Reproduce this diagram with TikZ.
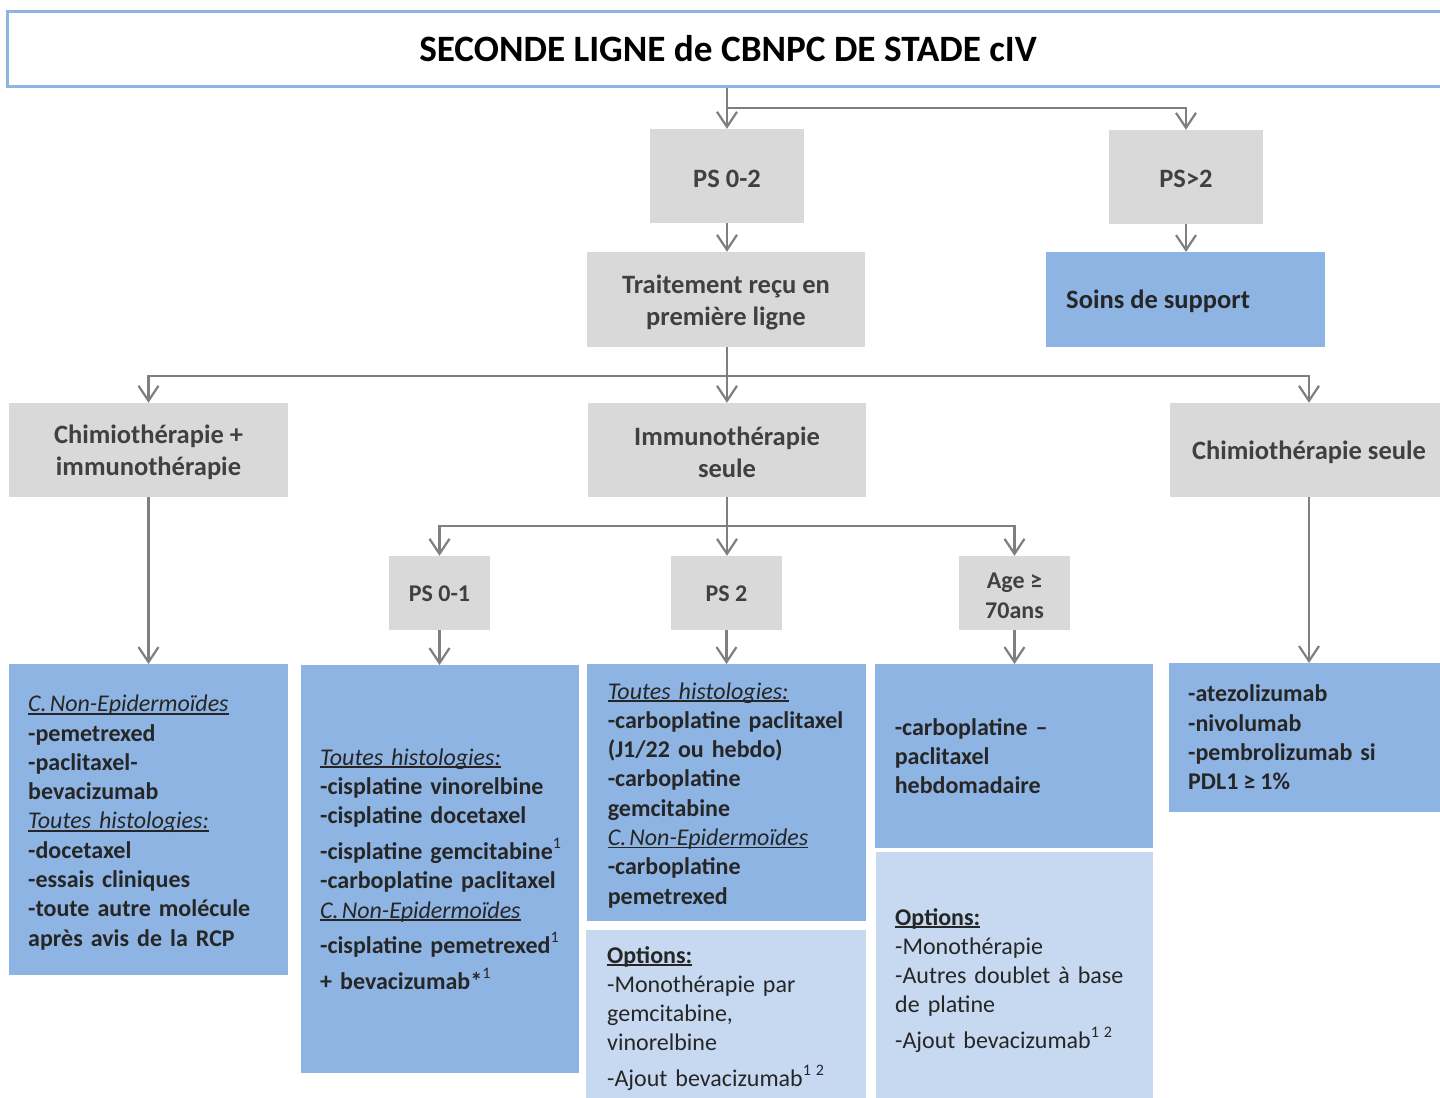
\documentclass[tikz,border=0pt]{standalone}
\usepackage{fontspec}
\setmainfont{Carlito}
\usetikzlibrary{arrows.meta}
\definecolor{bluebox}{HTML}{8EB4E3}
\definecolor{lightbox}{HTML}{C6D9F1}
\definecolor{graybox}{HTML}{D9D9D9}
\definecolor{linegray}{HTML}{7F7F7F}
\definecolor{graytext}{HTML}{404040}
\definecolor{darktext}{HTML}{262626}
\newsavebox\ulbox
\newcommand\myul[1]{\leavevmode\sbox\ulbox{#1}\rlap{\rule[-2.8bp]{\wd\ulbox}{1.4bp}}\usebox\ulbox}
\newcommand\sups[1]{\raisebox{11bp}{\fontsize{16bp}{16bp}\selectfont\mdseries #1}}
\begin{document}
\begin{tikzpicture}[x=1bp,y=-1bp,
  gbox/.style={fill=graybox,inner sep=0},
  gtext/.style={inner sep=0,align=center,text=graytext,font=\bfseries\fontsize{26.5bp}{32bp}\selectfont},
  sgtext/.style={gtext,font=\bfseries\fontsize{24bp}{29.5bp}\selectfont},
  panel/.style={fill=bluebox,inner sep=0,anchor=north west},
  lpanel/.style={fill=lightbox,inner sep=0,anchor=north west},
  body/.style={anchor=base west,inner sep=0,text width=255bp,align=left,text=darktext,font=\frenchspacing\fontsize{24bp}{29.3bp}\selectfont},
  arr/.style={draw=linegray,line width=2.2bp,-{Straight Barb[length=15bp,width=20bp,line width=2.2bp]}}
]
\useasboundingbox (0,0) rectangle (1440,1097);

% title
\node[draw=bluebox,line width=3bp,minimum width=1440bp,minimum height=75bp,inner sep=0,
      font=\bfseries\fontsize{37.2bp}{40bp}\selectfont] (title) at (728,49) {SECONDE LIGNE de CBNPC DE STADE cIV};

% gray decision boxes
\node[gbox,minimum width=154bp,minimum height=94bp] (ps02) at (727,176) {};
\node[gbox,minimum width=154bp,minimum height=94bp] (psg2) at (1186,177) {};
\node[gbox,minimum width=278bp,minimum height=95bp] (trait) at (726,299.5) {};
\node[gbox,minimum width=279bp,minimum height=94bp] (chim) at (148.5,450) {};
\node[gbox,minimum width=278bp,minimum height=94bp] (immuno) at (727,450) {};
\node[gbox,minimum width=278bp,minimum height=94bp] (chseule) at (1309,450) {};
\node[gbox,minimum width=101bp,minimum height=74bp] (ps01) at (439.5,593) {};
\node[gbox,minimum width=111bp,minimum height=74bp] (ps2) at (726.5,593) {};
\node[gbox,minimum width=111bp,minimum height=74bp] (age) at (1014.5,593) {};

\node[gtext] (ps02t) at ([yshift=-2.5bp]ps02.center) {PS 0-2};
\node[gtext] (psg2t) at ([yshift=-1.5bp]psg2.center) {PS>2};
\node[gtext] (traitt) at ([yshift=-2.5bp]trait.center) {Traitement reçu en\\première ligne};
\node[gtext] (chimt) at ([yshift=-2.5bp]chim.center) {Chimiothérapie +\\immunothérapie};
\node[gtext] (immunot) at ([yshift=-2.5bp]immuno.center) {Immunothérapie\\seule};
\node[gtext] (chseulet) at ([yshift=-2.5bp]chseule.center) {Chimiothérapie seule};
\node[sgtext] (ps01t) at ([yshift=-1.2bp]ps01.center) {PS 0-1};
\node[sgtext] (ps2t) at ([yshift=-1.2bp]ps2.center) {PS 2};
\node[sgtext] (aget) at ([yshift=-3bp]age.center) {Age ≥\\70ans};

% blue panels
\node[panel,minimum width=279bp,minimum height=95bp] (soins) at (1046,252) {};
\node[panel,minimum width=279bp,minimum height=311bp] (b1) at (9,664) {};
\node[panel,minimum width=278bp,minimum height=408bp] (b2) at (301,665) {};
\node[panel,minimum width=279bp,minimum height=257bp] (b3) at (587,664) {};
\node[lpanel,minimum width=280bp,minimum height=170bp] (o3) at (586,930) {};
\node[panel,minimum width=278bp,minimum height=184bp] (b4) at (875,664) {};
\node[lpanel,minimum width=277bp,minimum height=248bp] (o4) at (876,852) {};
\node[panel,minimum width=280bp,minimum height=149bp] (b5) at (1169,663) {};

% panel texts
\node[anchor=base west,inner sep=0,text=darktext,font=\bfseries\fontsize{26.5bp}{32bp}\selectfont] (tsoins) at (1066,308) {Soins de support};

\node[body] (t1) at (28,711.7) {\myul{\textit{C.\hspace{3bp}Non-Epidermoïdes}}\\
\textbf{-pemetrexed}\\
\textbf{-paclitaxel-}\\
\textbf{bevacizumab}\\
\myul{\textit{Toutes histologies:}}\\
\textbf{-docetaxel}\\
\textbf{-essais cliniques}\\
\textbf{-toute autre molécule}\\
\textbf{après avis de la RCP}};

\node[body] (t2) at (320,765) {\myul{\textit{Toutes histologies:}}\\
\textbf{-cisplatine vinorelbine}\\
\textbf{-cisplatine docetaxel}\\[6.5bp]
\textbf{-cisplatine gemcitabine}\sups{1}\\
\textbf{-carboplatine paclitaxel}\\
\myul{\textit{C.\hspace{3bp}Non-Epidermoïdes}}\\[6bp]
\textbf{-cisplatine pemetrexed}\sups{1}\\[7bp]
\textbf{+ bevacizumab*}\sups{1}};

\node[body] (t3) at (607.6,699) {\myul{\textit{Toutes histologies:}}\\
\textbf{-carboplatine paclitaxel}\\
\textbf{(J1/22 ou hebdo)}\\
\textbf{-carboplatine}\\
\textbf{gemcitabine}\\
\myul{\textit{C.\hspace{3bp}Non-Epidermoïdes}}\\
\textbf{-carboplatine}\\
\textbf{pemetrexed}};

\node[body] (to3) at (607,963) {\myul{\textbf{Options:}}\\
-Monothérapie par\\
gemcitabine,\\
vinorelbine\\[6bp]
-Ajout bevacizumab\sups{1\hspace{5bp}2}};

\node[body] (t4) at (894.6,735) {\textbf{-carboplatine –}\\
\textbf{paclitaxel}\\
\textbf{hebdomadaire}};

\node[body] (to4) at (895,925) {\myul{\textbf{Options:}}\\
-Monothérapie\\
-Autres doublet à base\\
de platine\\[6bp]
-Ajout bevacizumab\sups{1\hspace{5bp}2}};

\node[body,text width=240bp] (t5) at (1188,701.7) {\textbf{-atezolizumab}\\
\textbf{-nivolumab}\\
\textbf{-pembrolizumab si}\\
\textbf{PDL1\hspace{5bp}≥\hspace{5bp}1\%}};

% connectors
\coordinate (j1) at (727,108.3);
\coordinate (j2) at (727,376);
\coordinate (j3) at (727,526);
\draw[arr] (title.south -| ps02.north) -- (ps02.north);
\draw[arr] (j1) -| (psg2.north);
\draw[arr] (ps02.south) -- (trait.north -| ps02.south);
\draw[arr] (psg2.south) -- (soins.north -| psg2.south);
\draw[arr] (trait.south -| immuno.north) -- (immuno.north);
\draw[arr] (j2) -| (chim.north);
\draw[arr] (j2) -| (chseule.north);
\draw[arr] (chim.south) -- (b1.north -| chim.south);
\draw[arr] (immuno.south) -- (ps2.north -| immuno.south);
\draw[arr] (j3) -| (ps01.north);
\draw[arr] (j3) -| (age.north);
\draw[arr] (ps01.south) -- (b2.north -| ps01.south);
\draw[arr] (ps2.south) -- (b3.north -| ps2.south);
\draw[arr] (age.south) -- (b4.north -| age.south);
\draw[arr] (chseule.south) -- (b5.north -| chseule.south);
\end{tikzpicture}
\end{document}
